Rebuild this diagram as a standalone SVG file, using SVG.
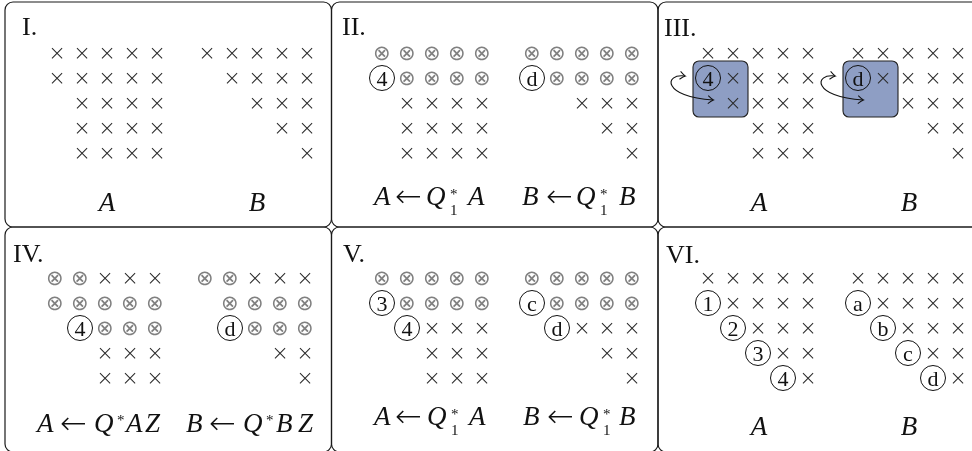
<svg xmlns="http://www.w3.org/2000/svg" width="972" height="451" viewBox="0 0 972 451">
<style>
.gray{filter:url(#gs)}
.frame{fill:none;stroke:#1a1a1a;stroke-width:1.2}
.x{font-family:"DejaVu Sans",sans-serif;font-weight:200;font-size:21px;fill:#2a2a2a;text-anchor:middle}
.o{font-family:"DejaVu Sans",sans-serif;font-weight:200;font-size:21.4px;fill:#808080;text-anchor:middle}
.num{font-family:"Liberation Serif",serif;font-size:22px;fill:#111;text-anchor:middle}
.circ{fill:none;stroke:#111;stroke-width:1}
.rom{font-family:"Liberation Serif",serif;font-size:26px;fill:#111}
.lab{font-family:"Liberation Serif",serif;font-style:italic;font-size:27px;fill:#111}
.mid{text-anchor:middle}
.arr{font-family:"DejaVu Sans",sans-serif;font-weight:200;font-style:normal;font-size:32px}
.s{font-family:"Liberation Serif",serif;font-style:normal;font-size:15px}
.box{fill:#8e9ec4;stroke:#222;stroke-width:1.1}
.sw{fill:none;stroke:#111;stroke-width:1.1;marker-start:url(#to);marker-end:url(#to)}
</style>
<defs>
<filter id="gs" filterUnits="userSpaceOnUse" x="0" y="0" width="972" height="451">
<feColorMatrix type="saturate" values="0"/>
</filter>
<marker id="to" viewBox="-7 -6 9 12" markerWidth="9" markerHeight="12" refX="0" refY="0" orient="auto-start-reverse" markerUnits="userSpaceOnUse">
<path d="M -5 -4 Q -1.5 -0.8 0.5 0 Q -1.5 0.8 -5 4" fill="none" stroke="#111" stroke-width="1"/>
</marker>
</defs>

<g id="panel-I" class="gray">
<rect class="frame" x="5" y="2" width="326.5" height="225" rx="8"/>
<text class="rom" x="22" y="35">I.</text>
<text class="x" x="57 82 107 132 157" y="59.5">×××××</text>
<text class="x" x="207 232 257 282 307" y="59.5">×××××</text>
<text class="x" x="57 82 107 132 157" y="84.5">×××××</text>
<text class="x" x="232 257 282 307" y="84.5">××××</text>
<text class="x" x="82 107 132 157" y="109.5">××××</text>
<text class="x" x="257 282 307" y="109.5">×××</text>
<text class="x" x="82 107 132 157" y="134.5">××××</text>
<text class="x" x="282 307" y="134.5">××</text>
<text class="x" x="82 107 132 157" y="159.5">××××</text>
<text class="x" x="307" y="159.5">×</text>
<text class="lab mid" x="107" y="211">A</text>
<text class="lab mid" x="257" y="211">B</text>
</g>

<g id="panel-II" class="gray">
<rect class="frame" x="331.5" y="2" width="326.5" height="225" rx="8"/>
<text class="rom" x="342" y="35">II.</text>
<text class="o" x="382 407 432 457 482" y="60">⊗⊗⊗⊗⊗</text>
<text class="o" x="532 557 582 607 632" y="60">⊗⊗⊗⊗⊗</text>
<circle class="circ" cx="382" cy="78" r="12.5"/><text class="num" x="382" y="85.5">4</text>
<text class="o" x="407 432 457 482" y="85">⊗⊗⊗⊗</text>
<circle class="circ" cx="532" cy="78" r="12.5"/><text class="num" x="532" y="85.5">d</text>
<text class="o" x="557 582 607 632" y="85">⊗⊗⊗⊗</text>
<text class="x" x="407 432 457 482" y="109.5">××××</text>
<text class="x" x="582 607 632" y="109.5">×××</text>
<text class="x" x="407 432 457 482" y="134.5">××××</text>
<text class="x" x="607 632" y="134.5">××</text>
<text class="x" x="407 432 457 482" y="159.5">××××</text>
<text class="x" x="632" y="159.5">×</text>
<text class="lab"><tspan x="374" y="205">A</tspan><tspan class="arr" x="395" y="207">←</tspan><tspan x="426" y="205">Q</tspan><tspan class="s" x="450" y="198.5">*</tspan><tspan class="s" x="450" y="215">1</tspan><tspan x="468" y="205">A</tspan></text>
<text class="lab"><tspan x="522" y="205">B</tspan><tspan class="arr" x="546" y="207">←</tspan><tspan x="576" y="205">Q</tspan><tspan class="s" x="600" y="198.5">*</tspan><tspan class="s" x="600" y="215">1</tspan><tspan x="619" y="205">B</tspan></text>
</g>

<g id="panel-III">
<rect class="frame" x="658" y="2" width="326.5" height="225" rx="8"/>
<rect class="box" x="693" y="61" width="55" height="56" rx="6"/>
<rect class="box" x="843" y="61" width="55" height="56" rx="6"/>
<g class="gray">
<text class="rom" x="664" y="36">III.</text>
<text class="x" x="708 733 758 783 808" y="59.5">×××××</text>
<text class="x" x="858 883 908 933 958" y="59.5">×××××</text>
<circle class="circ" cx="708" cy="78" r="12.5"/><text class="num" x="708" y="85.5">4</text>
<text class="x" x="733 758 783 808" y="84.5">××××</text>
<circle class="circ" cx="858" cy="78" r="12.5"/><text class="num" x="858" y="85.5">d</text>
<text class="x" x="883 908 933 958" y="84.5">××××</text>
<text class="x" x="733 758 783 808" y="109.5">××××</text>
<text class="x" x="908 933 958" y="109.5">×××</text>
<text class="x" x="758 783 808" y="134.5">×××</text>
<text class="x" x="933 958" y="134.5">××</text>
<text class="x" x="758 783 808" y="159.5">×××</text>
<text class="x" x="958" y="159.5">×</text>
<text class="lab mid" x="759" y="211">A</text>
<text class="lab mid" x="909" y="211">B</text>
</g>
</g>

<g id="panel-IV" class="gray">
<rect class="frame" x="5" y="227" width="326.5" height="225" rx="8"/>
<text class="rom" x="13" y="262">IV.</text>
<text class="o" x="55 80" y="285">⊗⊗</text>
<text class="x" x="105 130 155" y="284.5">×××</text>
<text class="o" x="205 230" y="285">⊗⊗</text>
<text class="x" x="255 280 305" y="284.5">×××</text>
<text class="o" x="55 80 105 130 155" y="310">⊗⊗⊗⊗⊗</text>
<text class="o" x="230 255 280 305" y="310">⊗⊗⊗⊗</text>
<circle class="circ" cx="80" cy="328" r="12.5"/><text class="num" x="80" y="335.5">4</text>
<text class="o" x="105 130 155" y="335">⊗⊗⊗</text>
<circle class="circ" cx="230" cy="328" r="12.5"/><text class="num" x="230" y="335.5">d</text>
<text class="o" x="255 280 305" y="335">⊗⊗⊗</text>
<text class="x" x="105 130 155" y="359.5">×××</text>
<text class="x" x="280 305" y="359.5">××</text>
<text class="x" x="105 130 155" y="384.5">×××</text>
<text class="x" x="305" y="384.5">×</text>
<text class="lab"><tspan x="37" y="432">A</tspan><tspan class="arr" x="60" y="434">←</tspan><tspan x="94" y="432">Q</tspan><tspan class="s" x="117" y="425">*</tspan><tspan x="126" y="432">A</tspan><tspan x="145" y="432">Z</tspan></text>
<text class="lab"><tspan x="186" y="432">B</tspan><tspan class="arr" x="209" y="434">←</tspan><tspan x="243" y="432">Q</tspan><tspan class="s" x="266" y="425">*</tspan><tspan x="276" y="432">B</tspan><tspan x="298" y="432">Z</tspan></text>
</g>

<g id="panel-V" class="gray">
<rect class="frame" x="331.5" y="227" width="326.5" height="225" rx="8"/>
<text class="rom" x="343" y="262">V.</text>
<text class="o" x="382 407 432 457 482" y="285">⊗⊗⊗⊗⊗</text>
<text class="o" x="532 557 582 607 632" y="285">⊗⊗⊗⊗⊗</text>
<circle class="circ" cx="382" cy="303" r="12.5"/><text class="num" x="382" y="310.5">3</text>
<text class="o" x="407 432 457 482" y="310">⊗⊗⊗⊗</text>
<circle class="circ" cx="532" cy="303" r="12.5"/><text class="num" x="532" y="310.5">c</text>
<text class="o" x="557 582 607 632" y="310">⊗⊗⊗⊗</text>
<circle class="circ" cx="407" cy="328" r="12.5"/><text class="num" x="407" y="335.5">4</text>
<text class="x" x="432 457 482" y="334.5">×××</text>
<circle class="circ" cx="557" cy="328" r="12.5"/><text class="num" x="557" y="335.5">d</text>
<text class="x" x="582 607 632" y="334.5">×××</text>
<text class="x" x="432 457 482" y="359.5">×××</text>
<text class="x" x="607 632" y="359.5">××</text>
<text class="x" x="432 457 482" y="384.5">×××</text>
<text class="x" x="632" y="384.5">×</text>
<text class="lab"><tspan x="374" y="425">A</tspan><tspan class="arr" x="395" y="427">←</tspan><tspan x="427" y="425">Q</tspan><tspan class="s" x="451" y="418.5">*</tspan><tspan class="s" x="451" y="435">1</tspan><tspan x="469" y="425">A</tspan></text>
<text class="lab"><tspan x="523" y="425">B</tspan><tspan class="arr" x="547" y="427">←</tspan><tspan x="579" y="425">Q</tspan><tspan class="s" x="603" y="418.5">*</tspan><tspan class="s" x="603" y="435">1</tspan><tspan x="619" y="425">B</tspan></text>
</g>

<g id="panel-VI" class="gray">
<rect class="frame" x="658" y="227" width="326.5" height="225" rx="8"/>
<text class="rom" x="666" y="263">VI.</text>
<text class="x" x="708 733 758 783 808" y="284.5">×××××</text>
<text class="x" x="858 883 908 933 958" y="284.5">×××××</text>
<circle class="circ" cx="708" cy="303" r="12.5"/><text class="num" x="708" y="310.5">1</text>
<text class="x" x="733 758 783 808" y="309.5">××××</text>
<circle class="circ" cx="858" cy="303" r="12.5"/><text class="num" x="858" y="310.5">a</text>
<text class="x" x="883 908 933 958" y="309.5">××××</text>
<circle class="circ" cx="733" cy="328" r="12.5"/><text class="num" x="733" y="335.5">2</text>
<text class="x" x="758 783 808" y="334.5">×××</text>
<circle class="circ" cx="883" cy="328" r="12.5"/><text class="num" x="883" y="335.5">b</text>
<text class="x" x="908 933 958" y="334.5">×××</text>
<circle class="circ" cx="758" cy="353" r="12.5"/><text class="num" x="758" y="360.5">3</text>
<text class="x" x="783 808" y="359.5">××</text>
<circle class="circ" cx="908" cy="353" r="12.5"/><text class="num" x="908" y="360.5">c</text>
<text class="x" x="933 958" y="359.5">××</text>
<circle class="circ" cx="783" cy="378" r="12.5"/><text class="num" x="783" y="385.5">4</text>
<text class="x" x="808" y="384.5">×</text>
<circle class="circ" cx="933" cy="378" r="12.5"/><text class="num" x="933" y="385.5">d</text>
<text class="x" x="958" y="384.5">×</text>
<text class="lab mid" x="759" y="435">A</text>
<text class="lab mid" x="909" y="435">B</text>
</g>

<g id="connectors">
<path class="sw" d="M 685 76 C 664 73, 662 97, 713 100"/>
<path class="sw" d="M 835 76 C 814 73, 812 97, 863 100"/>
</g>
</svg>
